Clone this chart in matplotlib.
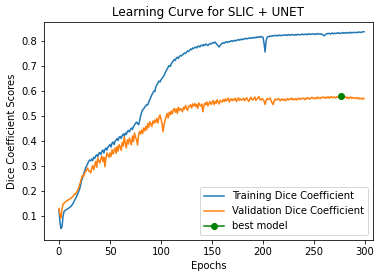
import numpy as np
import matplotlib
matplotlib.use("Agg")
import matplotlib.pyplot as plt

# dice scores, one value per epoch
train_dice = [
    0.124, 0.072, 0.050, 0.058, 0.100, 0.118, 0.122, 0.125, 0.127, 0.130,
    0.133, 0.136, 0.140, 0.145, 0.152, 0.160, 0.168, 0.176, 0.185, 0.195,
    0.205, 0.220, 0.240, 0.252, 0.265, 0.278, 0.292, 0.300, 0.308, 0.318,
    0.324, 0.320, 0.328, 0.322, 0.335, 0.330, 0.340, 0.345, 0.338, 0.350,
    0.354, 0.346, 0.358, 0.364, 0.352, 0.366, 0.372, 0.364, 0.376, 0.380,
    0.386, 0.376, 0.392, 0.396, 0.386, 0.400, 0.404, 0.410, 0.402, 0.416,
    0.418, 0.410, 0.422, 0.428, 0.420, 0.432, 0.426, 0.438, 0.442, 0.436,
    0.446, 0.452, 0.446, 0.458, 0.464, 0.470, 0.476, 0.470, 0.465, 0.480,
    0.500, 0.515, 0.525, 0.528, 0.536, 0.540, 0.546, 0.544, 0.556, 0.565,
    0.575, 0.585, 0.592, 0.600, 0.598, 0.618, 0.625, 0.632, 0.640, 0.636,
    0.645, 0.650, 0.656, 0.662, 0.672, 0.680, 0.688, 0.695, 0.702, 0.698,
    0.708, 0.715, 0.720, 0.726, 0.722, 0.732, 0.735, 0.730, 0.738, 0.742,
    0.740, 0.744, 0.748, 0.752, 0.750, 0.756, 0.760, 0.758, 0.762, 0.768,
    0.765, 0.772, 0.770, 0.774, 0.776, 0.772, 0.778, 0.780, 0.776, 0.782,
    0.784, 0.780, 0.786, 0.783, 0.788, 0.785, 0.782, 0.786, 0.790, 0.788,
    0.791, 0.794, 0.792, 0.796, 0.790, 0.786, 0.780, 0.776, 0.782, 0.788,
    0.790, 0.793, 0.791, 0.795, 0.797, 0.794, 0.798, 0.796, 0.799, 0.801,
    0.798, 0.802, 0.800, 0.803, 0.801, 0.804, 0.806, 0.803, 0.807, 0.805,
    0.808, 0.806, 0.809, 0.811, 0.808, 0.810, 0.812, 0.810, 0.813, 0.811,
    0.814, 0.812, 0.815, 0.813, 0.816, 0.814, 0.817, 0.815, 0.818, 0.816,
    0.815, 0.790, 0.756, 0.800, 0.815, 0.818, 0.817, 0.820, 0.819, 0.821,
    0.820, 0.822, 0.821, 0.823, 0.820, 0.822, 0.824, 0.821, 0.823, 0.822,
    0.824, 0.823, 0.825, 0.822, 0.824, 0.826, 0.823, 0.825, 0.824, 0.826,
    0.825, 0.823, 0.826, 0.824, 0.827, 0.825, 0.824, 0.826, 0.828, 0.825,
    0.827, 0.826, 0.828, 0.825, 0.827, 0.829, 0.826, 0.828, 0.827, 0.829,
    0.828, 0.826, 0.829, 0.827, 0.830, 0.828, 0.827, 0.829, 0.826, 0.823,
    0.821, 0.825, 0.828, 0.830, 0.829, 0.831, 0.828, 0.830, 0.832, 0.829,
    0.831, 0.830, 0.832, 0.830, 0.833, 0.831, 0.830, 0.832, 0.834, 0.831,
    0.833, 0.832, 0.834, 0.831, 0.833, 0.835, 0.832, 0.834, 0.833, 0.835,
    0.834, 0.833, 0.835, 0.834, 0.836, 0.835, 0.834, 0.836, 0.837, 0.837,
]

val_dice = [
    0.130, 0.105, 0.092, 0.130, 0.148, 0.152, 0.155, 0.158, 0.162, 0.164,
    0.166, 0.170, 0.172, 0.176, 0.180, 0.188, 0.186, 0.194, 0.200, 0.210,
    0.222, 0.235, 0.250, 0.262, 0.258, 0.270, 0.278, 0.285, 0.292, 0.280,
    0.280, 0.272, 0.290, 0.302, 0.285, 0.300, 0.318, 0.295, 0.332, 0.320,
    0.312, 0.328, 0.340, 0.318, 0.335, 0.297, 0.330, 0.352, 0.344, 0.335,
    0.352, 0.338, 0.365, 0.348, 0.362, 0.372, 0.350, 0.378, 0.360, 0.385,
    0.377, 0.362, 0.395, 0.380, 0.417, 0.390, 0.372, 0.405, 0.388, 0.412,
    0.400, 0.385, 0.420, 0.398, 0.432, 0.415, 0.405, 0.384, 0.425, 0.438,
    0.428, 0.444, 0.430, 0.452, 0.440, 0.458, 0.445, 0.470, 0.455, 0.477,
    0.468, 0.458, 0.480, 0.470, 0.484, 0.475, 0.490, 0.472, 0.495, 0.504,
    0.488, 0.470, 0.437, 0.465, 0.482, 0.497, 0.510, 0.492, 0.515, 0.505,
    0.520, 0.508, 0.524, 0.530, 0.515, 0.528, 0.510, 0.535, 0.522, 0.530,
    0.526, 0.517, 0.535, 0.528, 0.542, 0.530, 0.522, 0.540, 0.537, 0.545,
    0.532, 0.548, 0.540, 0.550, 0.538, 0.546, 0.530, 0.552, 0.544, 0.540,
    0.548, 0.517, 0.540, 0.552, 0.545, 0.556, 0.540, 0.550, 0.558, 0.546,
    0.552, 0.562, 0.545, 0.558, 0.550, 0.565, 0.555, 0.548, 0.563, 0.558,
    0.556, 0.566, 0.558, 0.568, 0.560, 0.566, 0.572, 0.556, 0.564, 0.569,
    0.561, 0.568, 0.564, 0.571, 0.558, 0.566, 0.573, 0.562, 0.568, 0.564,
    0.566, 0.571, 0.561, 0.568, 0.573, 0.565, 0.558, 0.568, 0.575, 0.566,
    0.564, 0.570, 0.576, 0.562, 0.568, 0.572, 0.578, 0.566, 0.564, 0.570,
    0.566, 0.560, 0.546, 0.562, 0.570, 0.566, 0.568, 0.572, 0.560, 0.552,
    0.546, 0.562, 0.568, 0.564, 0.566, 0.570, 0.565, 0.560, 0.568, 0.566,
    0.563, 0.568, 0.561, 0.566, 0.570, 0.564, 0.568, 0.566, 0.572, 0.565,
    0.568, 0.565, 0.570, 0.564, 0.568, 0.572, 0.566, 0.570, 0.568, 0.572,
    0.570, 0.565, 0.572, 0.568, 0.574, 0.570, 0.567, 0.572, 0.575, 0.570,
    0.572, 0.568, 0.574, 0.570, 0.576, 0.572, 0.569, 0.575, 0.573, 0.576,
    0.574, 0.570, 0.576, 0.573, 0.577, 0.571, 0.575, 0.578, 0.573, 0.576,
    0.575, 0.572, 0.577, 0.574, 0.576, 0.575, 0.580, 0.576, 0.571, 0.575,
    0.574, 0.577, 0.571, 0.575, 0.569, 0.574, 0.576, 0.570, 0.574, 0.572,
    0.570, 0.574, 0.570, 0.573, 0.568, 0.572, 0.570, 0.567, 0.572, 0.569,
]

epochs = np.arange(len(train_dice))
best = int(np.argmax(val_dice))

fig = plt.figure(figsize=(386 / 72, 278 / 72), dpi=72)
ax = fig.add_axes([44 / 386, 38 / 278, 329 / 386, 218 / 278])

ax.plot(epochs, train_dice, label="Training Dice Coefficient")
ax.plot(epochs, val_dice, label="Validation Dice Coefficient")
ax.plot(epochs[best], val_dice[best], marker="o", color="green", label="best model")

ax.set_xlim(-14.7, 307.8)
ax.set_ylim(0.004, 0.876)
ax.set_title("Learning Curve for SLIC + UNET")
ax.set_xlabel("Epochs")
ax.set_ylabel("Dice Coefficient Scores")
ax.legend(loc="lower right")

fig.savefig("out.png", dpi=72)
